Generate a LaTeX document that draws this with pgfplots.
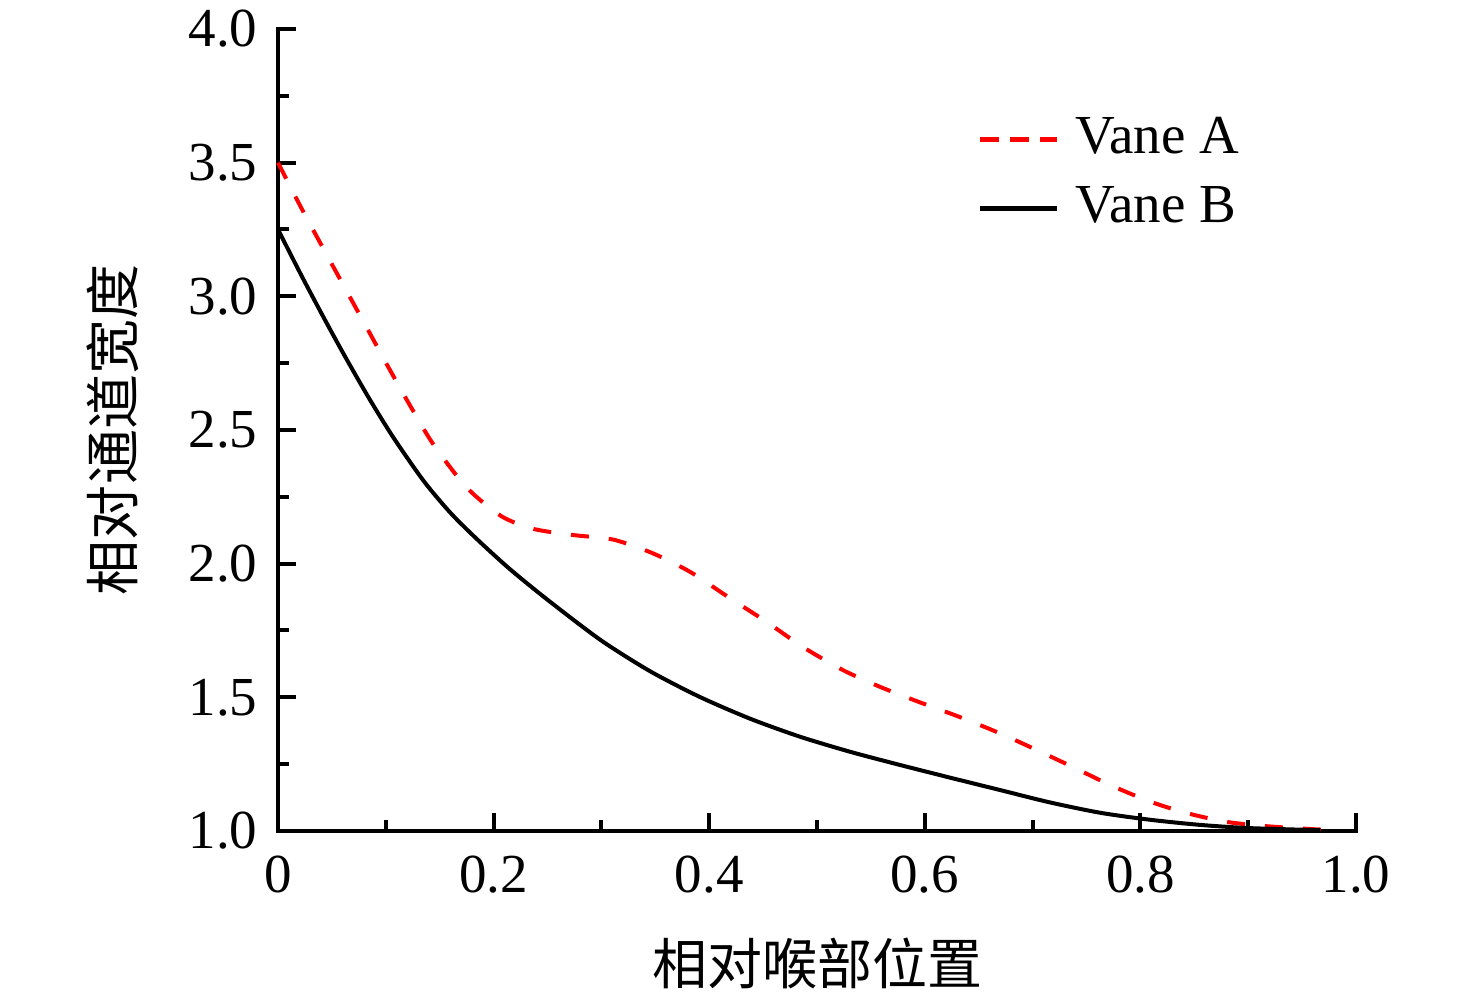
\documentclass[border=0pt]{standalone}
\usepackage{fontspec}
\setmainfont{Liberation Serif}
\newfontfamily\cjk{Noto Sans CJK SC}
\usepackage{pgfplots}
\pgfplotsset{compat=1.18}
\begin{document}
\begin{tikzpicture}
\begin{axis}[
  at={(0,0)}, anchor=south west,
  scale only axis, width=215.6bp, height=160.4bp,
  xmin=0, xmax=1, ymin=1, ymax=4,
  axis lines*=left,
  axis line style={line width=0.8bp, line cap=rect},
  every tick/.style={black, line width=0.8bp},
  tick align=inside,
  major tick length=3.6bp, minor tick length=2.2bp,
  xtick={0,0.2,0.4,0.6,0.8,1.0},
  xticklabels={0,0.2,0.4,0.6,0.8,1.0},
  ytick={1,1.5,2,2.5,3,3.5,4},
  yticklabels={1.0,1.5,2.0,2.5,3.0,3.5,4.0},
  minor xtick={0.1,0.3,0.5,0.7,0.9},
  minor ytick={1.25,1.75,2.25,2.75,3.25,3.75},
  /pgf/number format/assume math mode=true,
  tick label style={font=\fontsize{11bp}{13bp}\selectfont},
  xticklabel style={yshift=-1.4bp},
  yticklabel style={xshift=-0.6bp},
  xlabel={\cjk 相对喉部位置},
  ylabel={\cjk 相对通道宽度},
  label style={font=\fontsize{11bp}{13bp}\selectfont},
  xlabel style={at={(axis description cs:0.5,-0.1646)}, anchor=center},
  ylabel style={at={(axis description cs:-0.153,0.5)}, anchor=center},
  clip=false,
  legend style={draw=none, fill=none, at={(rel axis cs:0.649,0.902)}, anchor=north west,
    inner sep=0pt, outer sep=0pt, row sep=1.1bp, column sep=1.4bp,
    font=\fontsize{11bp}{13bp}\selectfont},
  legend cell align=left,
]
\addplot[red, line width=0.8bp, dash pattern=on 3.6bp off 4bp, smooth, tension=0.45,
  legend image code/.code={\draw[red, line width=0.85bp, dash pattern=on 3.8bp off 2.2bp] (0bp,0bp) -- (15.4bp,0bp);}]
coordinates {
(0,3.50) (0.023,3.32) (0.045,3.157) (0.064,3.017) (0.083,2.878) (0.101,2.745)
(0.122,2.595) (0.144,2.447) (0.175,2.285) (0.207,2.178) (0.237,2.13) (0.274,2.107)
(0.311,2.09) (0.347,2.04) (0.382,1.97) (0.417,1.877) (0.454,1.78) (0.487,1.688)
(0.524,1.602) (0.558,1.54) (0.593,1.485) (0.63,1.43) (0.667,1.37) (0.70,1.31)
(0.737,1.24) (0.772,1.172) (0.809,1.11) (0.843,1.067) (0.880,1.034) (0.917,1.018)
(0.955,1.008) (0.97,1.005)
};
\addlegendentry{Vane A}
\addplot[black, line width=0.8bp, smooth, tension=0.45,
  legend image code/.code={\draw[black, line width=0.85bp] (0bp,0bp) -- (15.4bp,0bp);}]
coordinates {
(0,3.25) (0.023,3.068) (0.045,2.901) (0.064,2.762) (0.085,2.615) (0.107,2.472)
(0.135,2.31) (0.16,2.19) (0.185,2.09) (0.215,1.98) (0.25,1.865) (0.299,1.715)
(0.345,1.598) (0.391,1.502) (0.438,1.42) (0.484,1.353) (0.531,1.296) (0.577,1.247)
(0.623,1.20) (0.67,1.153) (0.716,1.107) (0.763,1.068) (0.809,1.042) (0.855,1.023)
(0.90,1.011) (0.967,1.003)
};
\addlegendentry{Vane B}
\end{axis}
\pgfresetboundingbox
\path[use as bounding box] (-55.6bp,-33.8bp) rectangle (239.6bp,166.2bp);
\end{tikzpicture}
\end{document}
